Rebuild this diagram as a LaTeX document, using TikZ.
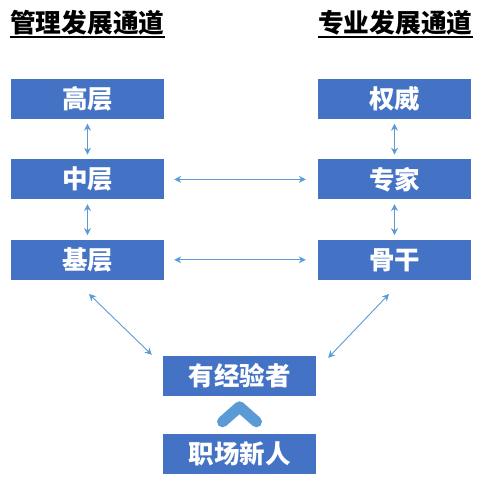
\documentclass[tikz,border=0pt]{standalone}
\usepackage{fontspec}
\setmainfont{Noto Sans CJK SC}
\usetikzlibrary{arrows.meta}
\usetikzlibrary{positioning}
\definecolor{boxblue}{HTML}{4472C4}
\definecolor{linkblue}{HTML}{5B9BD5}
\tikzset{
  level/.style={fill=boxblue, text=white, font=\fontsize{25.5}{25.5}\selectfont\bfseries,
    minimum width=153pt, minimum height=40pt, inner sep=0pt},
  heading/.style={font=\fontsize{25.7}{25.7}\selectfont\bfseries, inner sep=0pt, anchor=base west},
  link/.style={linkblue, line width=0.9pt, {Stealth[length=7pt,width=7pt]}-{Stealth[length=7pt,width=7pt]}}
}

\begin{document}
\begin{tikzpicture}[x=1pt,y=-1pt]
        \useasboundingbox (0,0) rectangle (489,482);
        % titles
        \node[heading] (mgmt) at (10,32) {管理发展通道};
        \node[heading] (prof) at (318,32) {专业发展通道};
        \draw[line width=2pt] ([yshift=-5pt]mgmt.base west) -- ([yshift=-5pt]mgmt.base east);
        \draw[line width=2pt] ([yshift=-5pt]prof.base west) -- ([yshift=-5pt]prof.base east);
        % management path
        \node[level] (gaoceng) at (87.5,99) {高层};
        \node[level, below=40pt of gaoceng] (zhongceng) {中层};
        \node[level, below=40pt of zhongceng] (jiceng) {基层};
        % professional path
        \node[level] (quanwei) at (394.5,99) {权威};
        \node[level, below=40pt of quanwei] (zhuanjia) {专家};
        \node[level, below=40pt of zhuanjia] (gugan) {骨干};
        % entry
        \node[level] (youjingyan) at (239.5,376) {有经验者};
        \node[level] (xinren) at (239.5,453.5) {职场新人};
        % links
        \draw[link, shorten <=4.5pt, shorten >=4.5pt] (gaoceng) -- (zhongceng);
        \draw[link, shorten <=4.5pt, shorten >=4.5pt] (zhongceng) -- (jiceng);
        \draw[link, shorten <=4.5pt, shorten >=4.5pt] (quanwei) -- (zhuanjia);
        \draw[link, shorten <=4.5pt, shorten >=4.5pt] (zhuanjia) -- (gugan);
        \draw[link, shorten <=10pt, shorten >=12pt] (zhongceng) -- (zhuanjia);
        \draw[link, shorten <=10pt, shorten >=12pt] (jiceng) -- (gugan);
        \draw[link] ([xshift=1.5pt,yshift=-14pt]jiceng.south) -- ([xshift=-11pt,yshift=1pt]youjingyan.north west);
        \draw[link] ([xshift=-5.5pt,yshift=-14pt]gugan.south) -- ([xshift=12pt,yshift=-2pt]youjingyan.north east);
        % chevron
        \draw[linkblue, line width=11pt, line cap=round, line join=round]
            ([xshift=-17pt,yshift=11.5pt]xinren.north) -- ([yshift=26.5pt]xinren.north) -- ([xshift=17pt,yshift=11.5pt]xinren.north);
\end{tikzpicture}
\end{document}
